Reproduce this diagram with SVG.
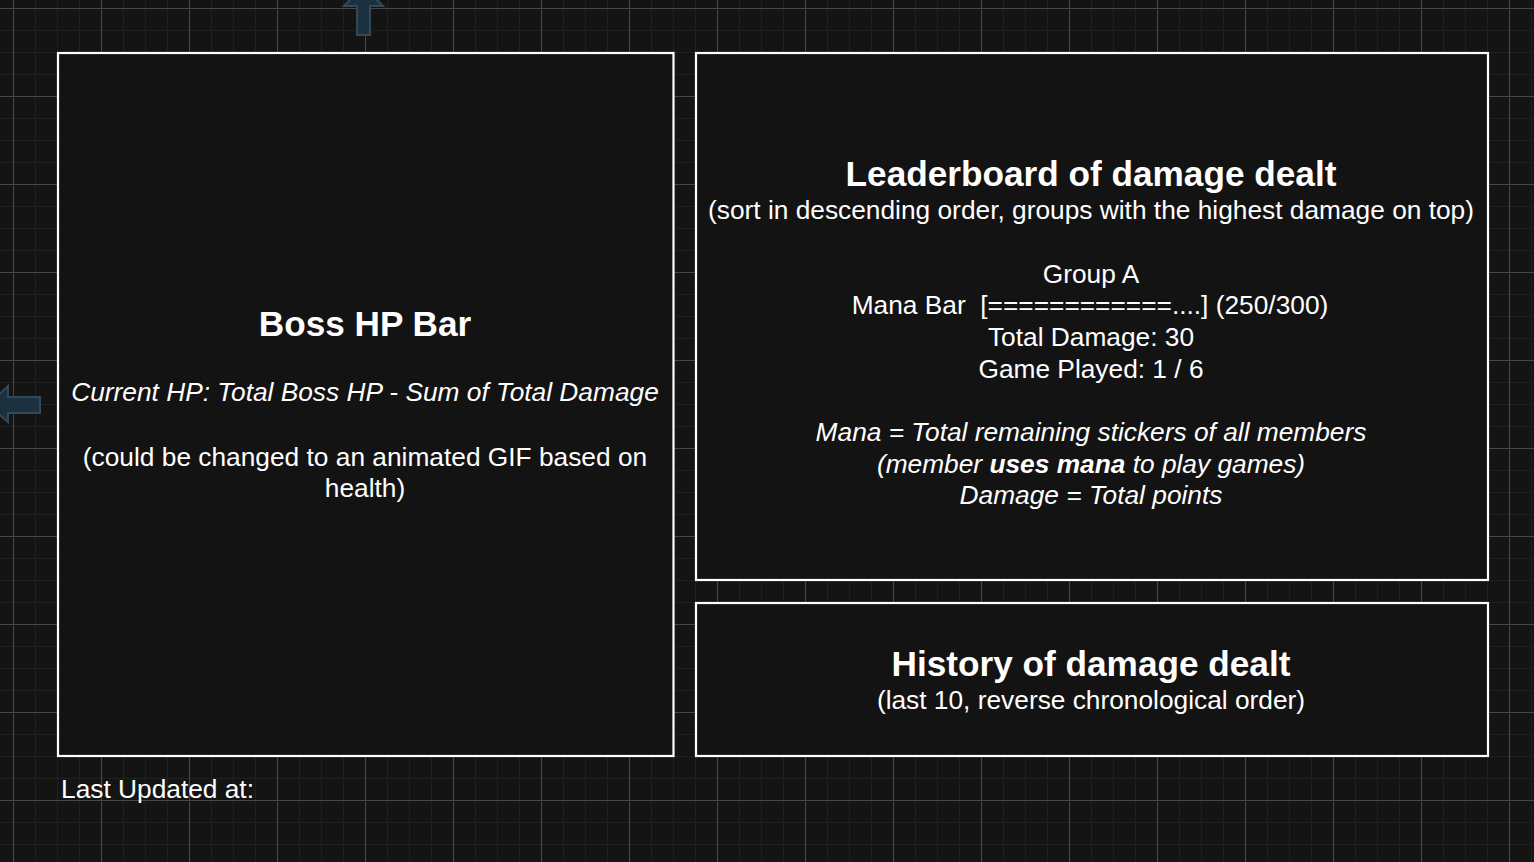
<svg xmlns="http://www.w3.org/2000/svg" width="1534" height="862" viewBox="0 0 1534 862">
  <defs>
    <pattern id="grid" patternUnits="userSpaceOnUse" x="13" y="8" width="88" height="88">
      <rect x="22" y="0" width="1" height="88" fill="#202020"/>
      <rect x="44" y="0" width="1" height="88" fill="#202020"/>
      <rect x="66" y="0" width="1" height="88" fill="#202020"/>
      <rect x="0" y="22" width="88" height="1" fill="#202020"/>
      <rect x="0" y="44" width="88" height="1" fill="#202020"/>
      <rect x="0" y="66" width="88" height="1" fill="#202020"/>
      <rect x="0" y="0" width="1" height="88" fill="#474747"/>
      <rect x="0" y="0" width="88" height="1" fill="#474747"/>
    </pattern>
  </defs>
  <style>
    .box { fill: #131313; stroke: #ffffff; stroke-width: 2.2; }
    .t { font-family: "Liberation Sans", Arial, sans-serif; fill: #ffffff; font-size: 26.3px; }
    .c { text-anchor: middle; }
    .title { font-size: 35.2px; font-weight: bold; }
    .i { font-style: italic; }
    .arrow { fill: #1c3140; stroke: #33495a; stroke-width: 2; }
  </style>
  <rect x="0" y="0" width="1534" height="862" fill="#141414"/>
  <rect x="0" y="0" width="1534" height="862" fill="url(#grid)"/>

  <g id="connectors">
    <path class="arrow" d="M357,35 L370,35 L370,6 L383,6 L363.5,-14 L344,6 L357,6 Z"/>
    <path class="arrow" d="M40,397 L40,413 L8,413 L8,422 L-12,405 L8,386 L8,397 Z"/>
  </g>

  <g id="boss-hp">
    <rect class="box" x="58" y="53" width="615.5" height="703"/>
    <text class="t c title" x="365" y="336">Boss HP Bar</text>
    <text class="t c i" x="365" y="401">Current HP: Total Boss HP - Sum of Total Damage</text>
    <text class="t c" x="365" y="466">(could be changed to an animated GIF based on</text>
    <text class="t c" x="365" y="497">health)</text>
  </g>

  <g id="leaderboard">
    <rect class="box" x="696" y="53" width="792" height="527"/>
    <text class="t c title" x="1091" y="186">Leaderboard of damage dealt</text>
    <text class="t c" x="1091" y="219">(sort in descending order, groups with the highest damage on top)</text>
    <text class="t c" x="1091" y="283">Group A</text>
    <text class="t c" x="1090" y="314" xml:space="preserve">Mana Bar  [============....] (250/300)</text>
    <text class="t c" x="1091" y="346">Total Damage: 30</text>
    <text class="t c" x="1091" y="378">Game Played: 1 / 6</text>
    <text class="t c i" x="1091" y="441">Mana = Total remaining stickers of all members</text>
    <text class="t c i" x="1091" y="473">(member <tspan font-weight="bold">uses mana</tspan> to play games)</text>
    <text class="t c i" x="1091" y="504">Damage = Total points</text>
  </g>

  <g id="history">
    <rect class="box" x="696" y="603" width="792" height="153"/>
    <text class="t c title" x="1091" y="676">History of damage dealt</text>
    <text class="t c" x="1091" y="709">(last 10, reverse chronological order)</text>
  </g>

  <g id="last-updated">
    <text class="t" x="61" y="798">Last Updated at:</text>
  </g>
</svg>
